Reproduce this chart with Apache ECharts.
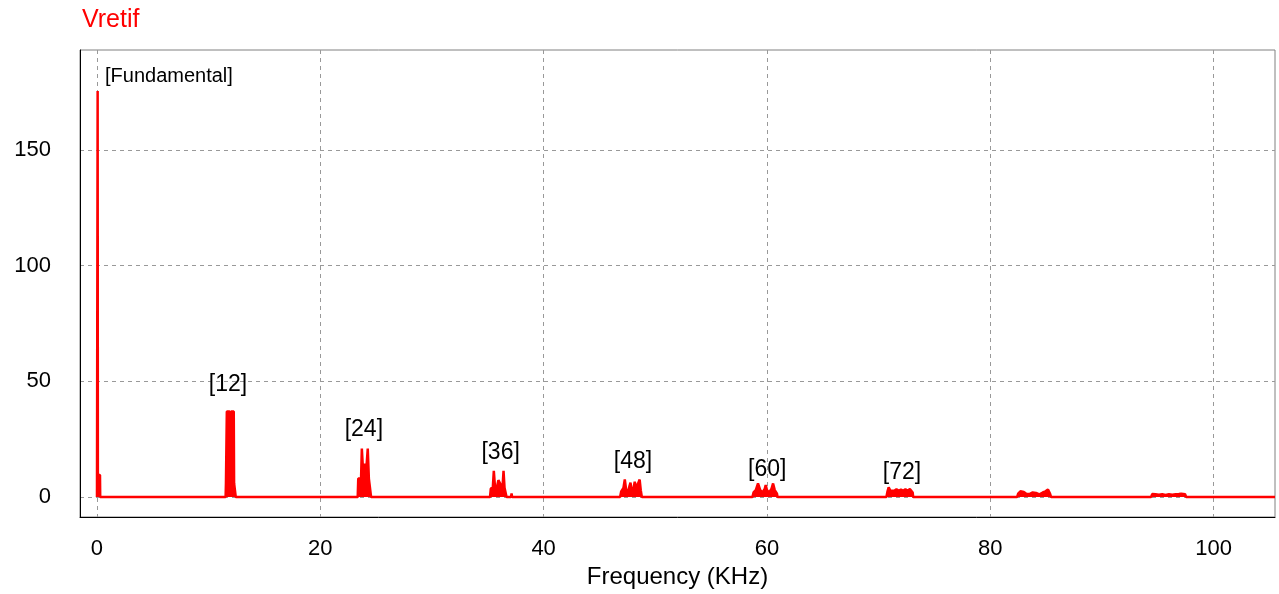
<!DOCTYPE html>
<html>
<head>
<meta charset="utf-8">
<script src="https://cdn.jsdelivr.net/npm/echarts@6/dist/echarts.min.js"></script>
<style>
html,body{margin:0;padding:0;background:#fff;}
#chart{width:1279px;height:594px;}
</style>
</head>
<body>
<div id="chart"></div>
<script>
// ---- data (frequency kHz, amplitude V) ----
const fundamental = [[0,0],[0.06,175.5],[0.08,9.5],[0.27,9.5],[0.29,0]];
const h12 = [[11.52,0],[11.55,6],[11.6,6],[11.63,37],[11.88,37],[11.95,34],[12.02,37],[12.25,37],[12.28,6],[12.4,6],[12.43,0]];
const h24 = [[23.35,0],[23.4,8],[23.65,8],[23.72,21],[23.8,14],[24.15,14],[24.25,21],[24.35,8],[24.5,8],[24.55,0]];
const h36 = [[35.2,0],[35.27,3.7],[35.45,4],[35.54,11.4],[35.65,4],[35.85,5],[35.95,7.3],[36.1,7.3],[36.2,5],[36.32,4],[36.41,11.4],[36.5,4],[36.62,3.5],[36.68,0],[37.08,0],[37.13,1.6],[37.18,0]];
const h48 = [[46.85,0],[46.95,2.5],[47.15,4],[47.27,7.6],[47.38,3.5],[47.55,2],[47.7,5],[47.78,6.2],[47.88,3],[47.98,2],[48.08,4.5],[48.16,6.6],[48.3,4],[48.45,4],[48.6,7.6],[48.7,3],[48.8,0]];
const h60 = [[58.7,0],[58.8,2],[59.0,3],[59.2,5.9],[59.4,3],[59.6,2],[59.8,3.5],[59.89,5.2],[60.0,3],[60.2,2],[60.4,3.5],[60.55,5.9],[60.7,3],[60.9,1.5],[60.95,0]];
const h72 = [[70.7,0],[70.8,2.5],[70.9,4.2],[71.05,2.8],[71.2,3.5],[71.4,2.7],[71.6,3.4],[71.8,2.7],[72.0,3.3],[72.2,2.7],[72.4,3.4],[72.6,2.7],[72.8,3.5],[72.93,4.2],[73.05,2],[73.1,0]];
const h84 = [[82.4,0],[82.5,1.5],[82.7,2.5],[82.84,3.3],[83.0,2.2],[83.2,1.5],[83.5,1.3],[83.8,2],[84.1,1.8],[84.4,1.2],[84.7,2],[84.95,2.5],[85.17,3.3],[85.35,1.5],[85.45,0]];
const h96 = [[94.4,0],[94.5,1.3],[94.63,1.9],[94.8,1.2],[95.1,1.0],[95.4,1.2],[95.7,0.9],[96.0,1.2],[96.3,1.0],[96.6,1.2],[96.9,1.3],[97.1,1.5],[97.25,1.9],[97.45,1.2],[97.55,0]];
const spectrumEnd = [[105.5,0]];

const xTicks = [0,20,40,60,80,100];
const yTicks = [0,50,100,150];

const annotText = ['[Fundamental]','[12]','[24]','[36]','[48]','[60]','[72]'];
const annotX = [0.72, 11.73, 23.9, 36.15, 48.0, 60.03, 72.1];
const annotY = [181.7, 48.8, 29.0, 19.3, 15.1, 11.7, 10.4];

const spectrum = [].concat(fundamental, h12, h24, h36, h48, h60, h72, h84, h96, spectrumEnd);

const chart = echarts.init(document.getElementById('chart'), null, {renderer:'canvas'});
const FONT = 'Liberation Sans, Arial, sans-serif';
const option = {
  animation: false,
  backgroundColor: '#fff',
  title: {
    text: 'Vretif', left: 77, top: 3,
    textStyle: {color: '#ff0000', fontSize: 25, fontWeight: 'normal', fontFamily: FONT}
  },
  grid: {left: 80, right: 4, top: 50, bottom: 77, show: true, borderColor: '#808080', borderWidth: 1},
  xAxis: {
    type: 'value', min: -1.52, max: 105.5,
    name: 'Frequency (KHz)', nameLocation: 'middle', nameGap: 47,
    nameTextStyle: {color: '#000', fontSize: 24, fontFamily: FONT},
    axisLine: {show: true, onZero: false, lineStyle: {color: '#000', width: 1}},
    axisTick: {show: false, customValues: xTicks},
    axisLabel: {customValues: xTicks, color: '#000', fontSize: 22, fontFamily: FONT, margin: 21},
    splitLine: {show: true, lineStyle: {color: '#999', type: [4,4], width: 1}}
  },
  yAxis: {
    type: 'value', min: -8.6, max: 193.2,
    axisLine: {show: true, onZero: false, lineStyle: {color: '#000', width: 1}},
    axisTick: {show: false, customValues: yTicks},
    axisLabel: {customValues: yTicks, color: '#000', fontSize: 22, fontFamily: FONT, margin: 29, padding: [4,0,0,0]},
    splitLine: {show: true, lineStyle: {color: '#999', type: [4,4], width: 1}}
  },
  series: [
    {
      type: 'line', data: spectrum, symbol: 'none', showSymbol: false,
      lineStyle: {color: '#ff0000', width: 2.5},
      areaStyle: {color: '#ff0000', opacity: 1},
      z: 3
    },
    {
      type: 'scatter', symbolSize: 0, z: 4,
      itemStyle: {opacity: 1},
      data: annotText.map((t, i) => ({
        value: [annotX[i], annotY[i]],
        label: {
          show: true, formatter: t, opacity: 1,
          position: i === 0 ? 'right' : 'inside', distance: 0,
          color: '#000', textBorderWidth: 0, fontFamily: FONT, fontSize: i === 0 ? 20 : 23
        }
      }))
    }
  ]
};
chart.setOption(option);
</script>
</body>
</html>
